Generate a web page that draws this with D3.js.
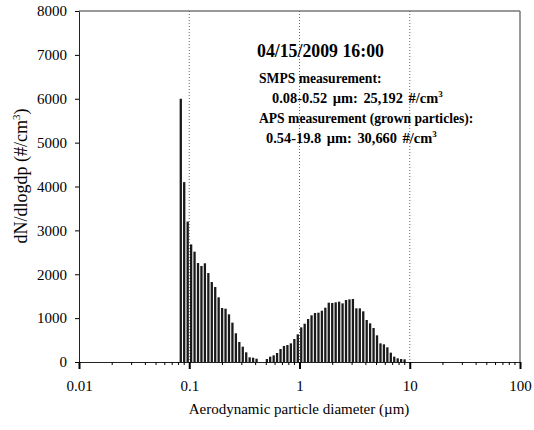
<!doctype html>
<html>
<head>
<meta charset="utf-8">
<title>Particle size distribution</title>
<script src="https://d3js.org/d3.v7.min.js"></script>
<style type="text/css">
	body { margin: 0; background: #fff; }
	text { font-family: "Liberation Serif", "Times New Roman", serif; fill: #000; }
	.tick-label { font-size: 15px; }
	.axis-title { font-size: 15px; }
	.ylab { font-size: 18px; }
	.note { font-weight: bold; font-size: 13.6px; }
	.note-num { font-weight: bold; font-size: 14.4px; word-spacing: 2px; }
	.note-big { font-weight: bold; font-size: 17.8px; }
</style>
</head>
<body>
<script>
	var w = 534;
	var h = 430;

	// SMPS channel midpoints (um) and dN/dlogdp
	var smpsDiam = [0.0838, 0.0900, 0.0968, 0.1040, 0.1117, 0.1201, 0.1290, 0.1386, 0.1490, 0.1601,
	                0.1720, 0.1848, 0.1986, 0.2134, 0.2293, 0.2464, 0.2648, 0.2846, 0.3058, 0.3286,
	                0.3531, 0.3795, 0.4078, 0.4382, 0.4709, 0.5060];
	var smpsConc = [6000, 4100, 3200, 2680, 2515, 2256, 2188, 2250, 2028, 1823,
	                1709, 1474, 1231, 1215, 1087, 896, 654, 456, 349, 221,
	                107, 98, 75, 0, 0, 68];

	// APS channel midpoints (um) and dN/dlogdp
	var apsDiam = [0.542, 0.583, 0.626, 0.673, 0.723, 0.777, 0.835, 0.898, 0.965, 1.037,
	               1.114, 1.197, 1.286, 1.382, 1.486, 1.596, 1.715, 1.843, 1.981, 2.129,
	               2.288, 2.458, 2.642, 2.839, 3.051, 3.278, 3.523, 3.786, 4.068, 4.371,
	               4.698, 5.048, 5.425, 5.829, 6.264, 6.732, 7.234, 7.774, 8.354, 8.977];
	var apsConc = [122, 152, 205, 296, 365, 387, 425, 524, 631, 790,
	               873, 980, 1064, 1117, 1124, 1169, 1238, 1352, 1345, 1360,
	               1375, 1337, 1413, 1428, 1436, 1223, 1223, 1155, 957, 881,
	               775, 608, 425, 403, 335, 213, 122, 84, 68, 61];

	var xTicks = [0.01, 0.1, 1, 10, 100];
	var xTickLabels = ["0.01", "0.1", "1", "10", "100"];
	var yTicks = [0, 1000, 2000, 3000, 4000, 5000, 6000, 7000, 8000];
	var gridAt = [0.1, 1, 10];

	var bars = [];
	smpsDiam.forEach(function(d, i) { bars.push({ d: d, v: smpsConc[i] }); });
	apsDiam.forEach(function(d, i) { bars.push({ d: d, v: apsConc[i] }); });

	var svg = d3.select("body").append("svg")
		.attr("width", w)
		.attr("height", h);

	var xScale = d3.scaleLog().domain([0.01, 100]).range([79, 520]);
	var yScale = d3.scaleLinear().domain([0, 8000]).range([362, 11]);

	// frame (top + right)
	svg.append("line")
		.attr("x1", 79).attr("x2", 520)
		.attr("y1", yScale(8000)).attr("y2", yScale(8000))
		.attr("stroke", "#777").attr("stroke-width", 1.5);
	svg.append("line")
		.attr("x1", 520).attr("x2", 520)
		.attr("y1", yScale(8000)).attr("y2", yScale(0))
		.attr("stroke", "#777").attr("stroke-width", 1.5);

	// dotted gridlines
	svg.append("g").selectAll("line")
		.data(gridAt)
		.enter()
		.append("line")
		.attr("x1", function(d) { return xScale(d); })
		.attr("x2", function(d) { return xScale(d); })
		.attr("y1", yScale(8000))
		.attr("y2", yScale(0))
		.attr("stroke", "#666")
		.attr("stroke-width", 1)
		.attr("stroke-dasharray", "1,2");

	// bars
	var bw = 2.3;
	svg.append("g").selectAll("rect")
		.data(bars.filter(function(b) { return b.v > 0; }))
		.enter()
		.append("rect")
		.attr("x", function(b) { return xScale(b.d) - bw / 2; })
		.attr("width", bw)
		.attr("y", function(b) { return yScale(b.v); })
		.attr("height", function(b) { return yScale(0) - yScale(b.v); })
		.attr("fill", "#1a1a1a");

	// x axis
	var xAxis = d3.axisBottom(xScale)
		.tickValues(xTicks)
		.tickFormat(function(d, i) { return xTickLabels[i]; })
		.tickSizeInner(7)
		.tickSizeOuter(0)
		.tickPadding(11);
	var gx = svg.append("g")
		.attr("transform", "translate(0," + yScale(0) + ")")
		.call(xAxis);
	gx.selectAll("text").attr("class", "tick-label").attr("font-family", null).attr("font-size", null);
	gx.selectAll(".tick line").attr("stroke-width", 2);
	gx.select(".domain").attr("stroke", "#222");

	// minor ticks on x axis
	var minor = [];
	xTicks.slice(0, -1).forEach(function(t) {
		[2, 3, 4, 5, 6, 7, 8, 9].forEach(function(m) { minor.push(t * m); });
	});
	gx.append("g").selectAll("line")
		.data(minor)
		.enter()
		.append("line")
		.attr("x1", function(d) { return xScale(d); })
		.attr("x2", function(d) { return xScale(d); })
		.attr("y1", 0)
		.attr("y2", 3)
		.attr("stroke", "#000");

	// y axis
	var yAxis = d3.axisLeft(yScale)
		.tickValues(yTicks)
		.tickFormat(d3.format("d"))
		.tickSizeInner(4)
		.tickSizeOuter(0)
		.tickPadding(8);
	var gy = svg.append("g")
		.attr("transform", "translate(79,0)")
		.call(yAxis);
	gy.selectAll("text").attr("class", "tick-label").attr("font-family", null).attr("font-size", null);
	gy.select(".domain").attr("stroke", "#222");

	// axis titles
	svg.append("text")
		.attr("class", "axis-title")
		.attr("x", 299)
		.attr("y", 414)
		.attr("text-anchor", "middle")
		.text("Aerodynamic particle diameter (\u00b5m)");

	var yt = svg.append("text")
		.attr("class", "ylab")
		.attr("transform", "translate(27,176) rotate(-90)")
		.attr("text-anchor", "middle");
	yt.append("tspan").text("dN/dlogdp (#/cm");
	yt.append("tspan").attr("dy", -7).attr("font-size", 11).text("3");
	yt.append("tspan").attr("dy", 7).text(")");

	// annotation
	svg.append("text").attr("class", "note-big").attr("x", 257).attr("y", 57).text("04/15/2009 16:00");
	svg.append("text").attr("class", "note").attr("x", 259).attr("y", 83).text("SMPS measurement:");
	var n1 = svg.append("text").attr("class", "note-num").attr("x", 272).attr("y", 103);
	n1.append("tspan").text("0.08-0.52 \u00b5m: 25,192 #/cm");
	n1.append("tspan").attr("dy", -6).attr("font-size", 9).text("3");
	svg.append("text").attr("class", "note").attr("x", 259).attr("y", 123).text("APS measurement (grown particles):");
	var n2 = svg.append("text").attr("class", "note-num").attr("x", 266).attr("y", 143);
	n2.append("tspan").text("0.54-19.8 \u00b5m: 30,660 #/cm");
	n2.append("tspan").attr("dy", -6).attr("font-size", 9).text("3");
</script>
</body>
</html>
